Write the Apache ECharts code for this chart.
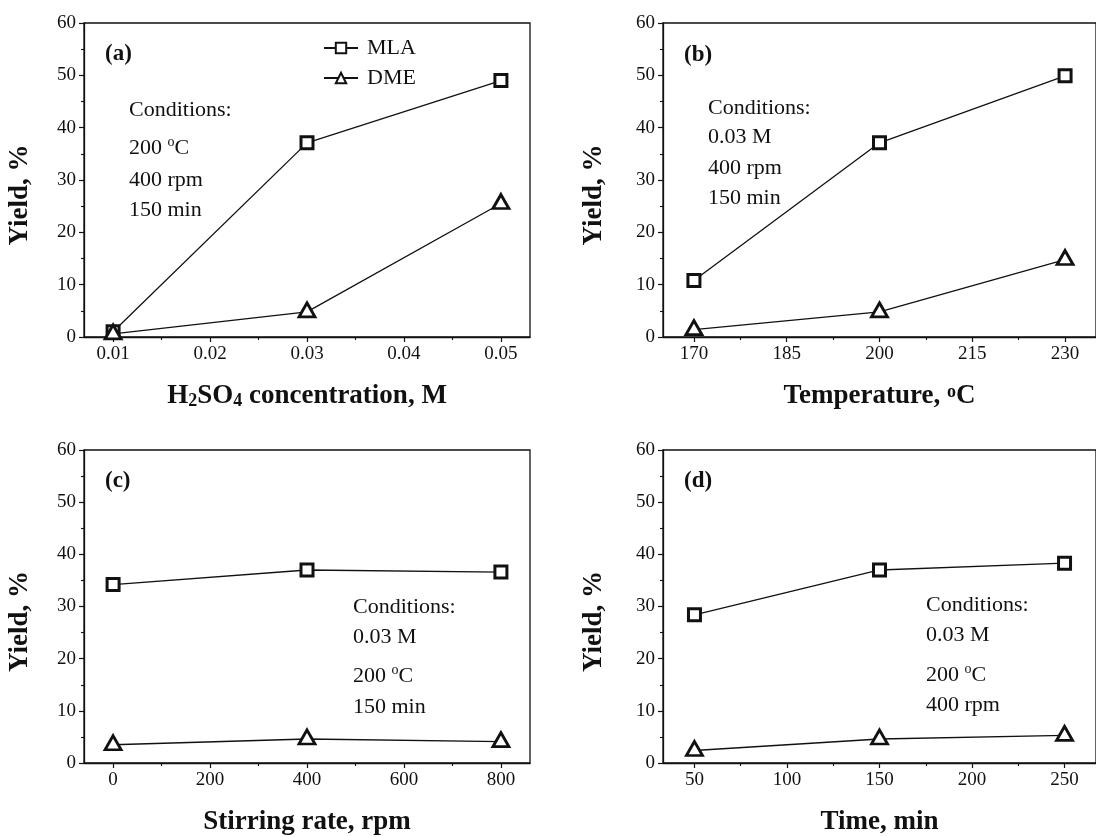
<!DOCTYPE html>
<html>
<head>
<meta charset="utf-8">
<script src="https://cdn.jsdelivr.net/npm/echarts@6/dist/echarts.min.js"></script>
<style>
  html, body { margin: 0; padding: 0; background: #fff; }
  #chart { width: 1096px; height: 837px; }
</style>
</head>
<body>
<div id="chart"></div>
<script>
// panel (a): acid concentration
var concX = [0.01, 0.03, 0.05];
var mlaA = [1.0, 37.1, 49.0];
var dmeA = [0.6, 4.8, 25.5];
// panel (b): temperature
var tempX = [170, 200, 230];
var mlaB = [10.8, 37.1, 49.9];
var dmeB = [1.4, 4.8, 14.8];
// panel (c): stirring rate
var rpmX = [0, 400, 800];
var mlaC = [34.2, 37.0, 36.6];
var dmeC = [3.5, 4.6, 4.1];
// panel (d): time
var timeX = [50, 150, 250];
var mlaD = [28.4, 37.0, 38.3];
var dmeD = [2.4, 4.6, 5.3];

// tick labels
var ticksA = [0.01, 0.02, 0.03, 0.04, 0.05];
var ticksB = [170, 185, 200, 215, 230];
var ticksC = [0, 200, 400, 600, 800];
var ticksD = [50, 100, 150, 200, 250];
var minorA = [0.015, 0.025, 0.035, 0.045];
var minorB = [177.5, 192.5, 207.5, 222.5];
var minorC = [100, 300, 500, 700];
var minorD = [75, 125, 175, 225];

var labelsPanel = ['(a)', '(b)', '(c)', '(d)'];
var condA = ['Conditions:', '200 {s|o}C', '400 rpm', '150 min'];
var condB = ['Conditions:', '0.03 M', '400 rpm', '150 min'];
var condC = ['Conditions:', '0.03 M', '200 {s|o}C', '150 min'];
var condD = ['Conditions:', '0.03 M', '200 {s|o}C', '400 rpm'];

var FONT = '"Liberation Serif", "Times New Roman", serif';

function pair(xs, ys) {
    return xs.map(function (x, i) { return [x, ys[i]]; });
}

var grids = [
    { left: 84, top: 23, width: 446, height: 314 },
    { left: 663, top: 23, width: 446, height: 314 },
    { left: 84, top: 450, width: 446, height: 313 },
    { left: 663, top: 450, width: 446, height: 313 }
];

var panels = [
    { x: concX, mla: mlaA, dme: dmeA, min: 0.007, max: 0.053, ticks: ticksA, minor: minorA,
      name: 'H{sub|2}SO{sub|4} concentration, M', yGap: 50, cond: condA },
    { x: tempX, mla: mlaB, dme: dmeB, min: 165, max: 235, ticks: ticksB, minor: minorB,
      name: 'Temperature, {sup|o}C', yGap: 55, cond: condB },
    { x: rpmX, mla: mlaC, dme: dmeC, min: -60, max: 860, ticks: ticksC, minor: minorC,
      name: 'Stirring rate, rpm', yGap: 50, cond: condC },
    { x: timeX, mla: mlaD, dme: dmeD, min: 33, max: 267, ticks: ticksD, minor: minorD,
      name: 'Time, min', yGap: 55, cond: condD }
];

var condPos = [
    { x: 129, y: [110, 148, 180, 210] },
    { x: 708, y: [108, 137, 168, 198] },
    { x: 353, y: [607, 637, 676, 707] },
    { x: 926, y: [605, 635, 675, 705] }
];
var labelPos = [[105, 56], [684, 57], [105, 483], [684, 483]];

var xAxes = [], yAxes = [], series = [], graphics = [];

panels.forEach(function (p, i) {
    xAxes.push({
        type: 'value', gridIndex: i, min: p.min, max: p.max, position: 'bottom',
        name: p.name, nameLocation: 'middle', nameGap: 46,
        nameTextStyle: {
            fontFamily: FONT, fontSize: 27, fontWeight: 'bold', color: '#111',
            rich: {
                sub: { fontFamily: FONT, fontSize: 18, fontWeight: 'bold', color: '#111', verticalAlign: 'bottom', lineHeight: 14 },
                sup: { fontFamily: FONT, fontSize: 18, fontWeight: 'bold', color: '#111', verticalAlign: 'top', lineHeight: 14 }
            }
        },
        axisLine: { show: true, onZero: false, lineStyle: { color: '#111', width: 1.3 } },
        axisTick: { show: true, length: 5, customValues: p.ticks, lineStyle: { color: '#111', width: 1.2 } },
        axisLabel: {
            customValues: p.ticks, margin: 8, fontFamily: FONT, fontSize: 19, color: '#111',
            formatter: function (v) { return String(v); }
        },
        splitLine: { show: false }
    });
    // minor ticks on the x axis
    xAxes.push({
        type: 'value', gridIndex: i, min: p.min, max: p.max, position: 'bottom', offset: 0,
        axisLine: { show: false, onZero: false },
        axisTick: { show: true, length: 3, customValues: p.minor, lineStyle: { color: '#111', width: 1.1 } },
        axisLabel: { show: false },
        splitLine: { show: false }
    });
    yAxes.push({
        type: 'value', gridIndex: i, min: 0, max: 60, interval: 10, position: 'left',
        name: 'Yield, %', nameLocation: 'middle', nameGap: p.yGap, nameRotate: 90,
        nameTextStyle: { fontFamily: FONT, fontSize: 27, fontWeight: 'bold', color: '#111', padding: [0, 30, 0, 0] },
        axisLine: { show: true, onZero: false, lineStyle: { color: '#111', width: 1.3 } },
        axisTick: { show: true, length: 5, lineStyle: { color: '#111', width: 1.2 } },
        minorTick: { show: true, splitNumber: 2, length: 3, lineStyle: { color: '#111', width: 1.1 } },
        axisLabel: { margin: 8, fontFamily: FONT, fontSize: 19, color: '#111' },
        splitLine: { show: false }
    });
    series.push({
        name: 'MLA', type: 'line', xAxisIndex: i * 2, yAxisIndex: i,
        data: pair(p.x, p.mla),
        symbol: 'rect', symbolSize: 12,
        lineStyle: { color: '#111', width: 1.3 },
        itemStyle: { color: '#fff', borderColor: '#111', borderWidth: 3 },
        emphasis: { disabled: true },
        z: 3
    });
    series.push({
        name: 'DME', type: 'line', xAxisIndex: i * 2, yAxisIndex: i,
        data: pair(p.x, p.dme),
        symbol: 'triangle', symbolSize: [16, 14], symbolOffset: [0, -2],
        lineStyle: { color: '#111', width: 1.3 },
        itemStyle: { color: '#fff', borderColor: '#111', borderWidth: 2.8 },
        emphasis: { disabled: true },
        z: 3
    });

    graphics.push({
        type: 'text', left: labelPos[i][0], top: labelPos[i][1] - 13,
        style: { text: labelsPanel[i], font: 'bold 23px ' + FONT, fill: '#111' }
    });
    p.cond.forEach(function (line, k) {
        graphics.push({
            type: 'text', x: condPos[i].x, y: condPos[i].y[k],
            style: {
                text: line, fontFamily: FONT, fontSize: 22, fill: '#111',
                verticalAlign: 'middle', lineHeight: 26,
                rich: { s: { fontFamily: FONT, fontSize: 14, fill: '#111', verticalAlign: 'top', lineHeight: 12 } }
            }
        });
    });
});

var chart = echarts.init(document.getElementById('chart'));
chart.setOption({
    backgroundColor: '#fff',
    animation: false,
    grid: grids.map(function (g) {
        return Object.assign({ show: true, borderColor: '#111', borderWidth: 1.3, backgroundColor: 'transparent' }, g);
    }),
    legend: {
        data: ['MLA', 'DME'],
        orient: 'vertical', left: 318, top: 32,
        itemWidth: 34, itemHeight: 13, itemGap: 8,
        textStyle: { fontFamily: FONT, fontSize: 22, color: '#111', lineHeight: 22, padding: [0, 0, 0, 4] },
        selectedMode: false
    },
    xAxis: xAxes,
    yAxis: yAxes,
    series: series,
    graphic: graphics
});
</script>
</body>
</html>
